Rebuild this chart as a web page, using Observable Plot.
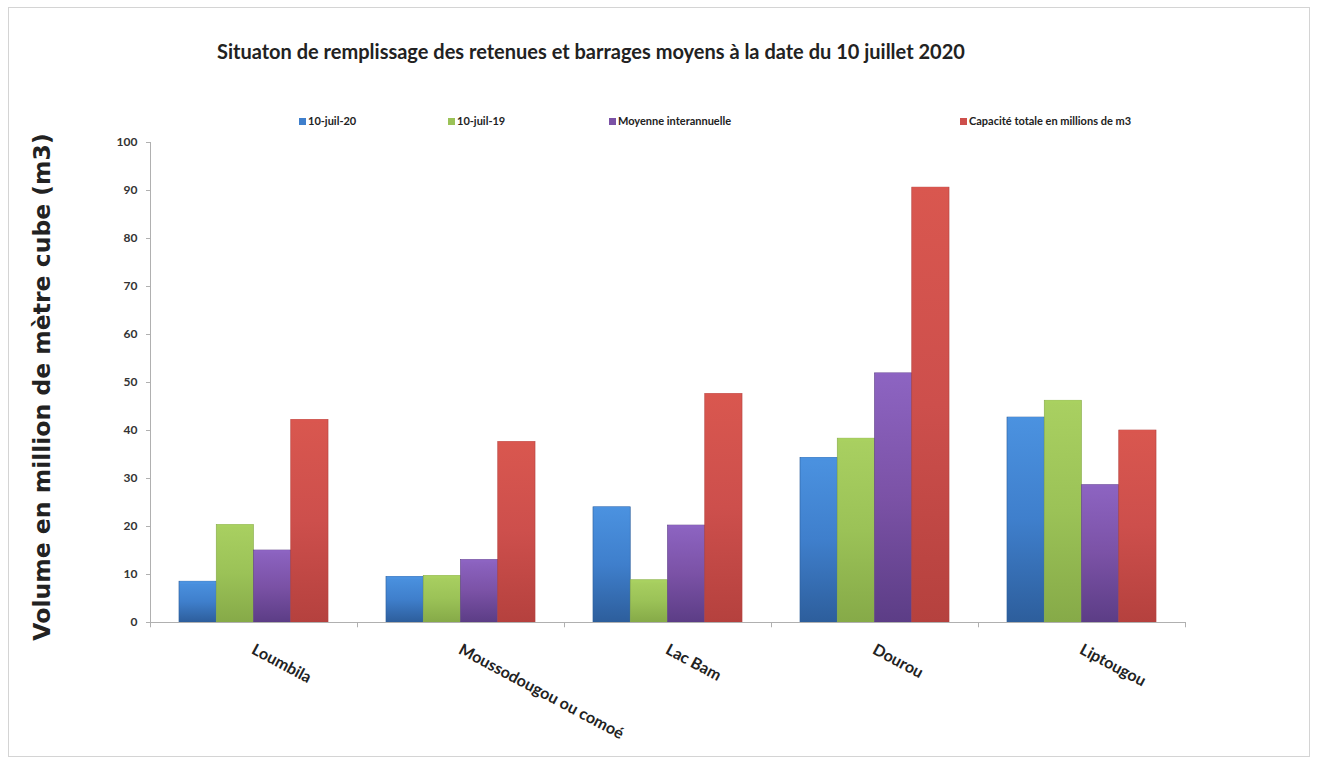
<!DOCTYPE html>
<html><head><meta charset="utf-8">
<script src="https://cdn.jsdelivr.net/npm/d3@7"></script>
<script src="https://cdn.jsdelivr.net/npm/@observablehq/plot@0.6"></script>
<style>
body{margin:0;background:#fff;font-family:Lato,"Open Sans",sans-serif;}
#wrap{position:relative;width:1318px;height:761px;overflow:hidden;}
#frame{position:absolute;left:8px;top:7px;width:1300px;height:748px;border:1px solid #d4d4d4;}
#title{position:absolute;left:217px;top:39px;font-size:20px;font-weight:700;color:#222;white-space:nowrap;}
#ytitle{position:absolute;left:42px;top:387px;transform:translate(-50%,-50%) rotate(-90deg);font-family:"DejaVu Sans";font-size:23.5px;font-weight:700;color:#222;white-space:nowrap;}
.leg{position:absolute;top:114px;font-size:11px;font-weight:700;color:#222;white-space:nowrap;}
.leg i{display:inline-block;width:7px;height:7px;margin-right:2px;vertical-align:0px;}
#chart{position:absolute;left:0;top:0;}
</style></head>
<body><div id="wrap"><div id="frame"></div><div id="chart"></div>
<div id="title">Situaton de remplissage des retenues et barrages moyens à la date du 10 juillet 2020</div>
<div id="ytitle">Volume en million de mètre cube (m3)</div>
<div id="legend"></div>
</div>
<script>
const categories = ["Loumbila","Moussodougou ou comoé","Lac Bam","Dourou","Liptougou"];
const seriesNames = ["10-juil-20","10-juil-19","Moyenne interannuelle","Capacité totale en millions de m3"];
const juil20 = [8.5, 9.5, 24.0, 34.3, 42.7];
const juil19 = [20.3, 9.7, 8.8, 38.3, 46.2];
const moyenne = [15.0, 13.0, 20.2, 51.9, 28.6];
const capacite = [42.2, 37.6, 47.6, 90.6, 40.0];
const yTicks = [0,10,20,30,40,50,60,70,80,90,100];
const colors = ["#3f7fcc","#9bc257","#7b52a6","#cd4f4c"];
const gradTop = ["#4b92e0","#a9d061","#8d64c2","#d9574f"];
const gradBot = ["#2d5e9c","#86aa48","#5c3d86","#b5413e"];

const seriesVals = [juil20, juil19, moyenne, capacite];
const rows = [];
categories.forEach((c, ci) => seriesVals.forEach((vals, si) => rows.push({category: c, ci, si, series: seriesNames[si], value: vals[ci]})));

const outer = 0.14, bw = (1 - 2*outer) / 4;

const plot = Plot.plot({
  width: 1318, height: 761,
  marginLeft: 150, marginRight: 133, marginTop: 142, marginBottom: 139,
  style: {fontFamily: "Lato, sans-serif", overflow: "visible"},
  x: {type: "linear", domain: [0, categories.length], axis: null},
  y: {type: "linear", domain: [0, 100], axis: null},
  color: {domain: seriesNames, range: seriesNames.map((_, i) => `url(#g${i})`)},
  marks: [
    Plot.rectY(rows, {x1: d => d.ci + outer + d.si*bw, x2: d => d.ci + outer + (d.si+1)*bw, y1: 0, y2: "value", fill: "series", stroke: d => gradBot[d.si], strokeWidth: 0.6}),
    Plot.rectY(rows, {x1: d => d.ci + outer + d.si*bw, x2: d => d.ci + outer + (d.si+1)*bw, y1: d => d.value - 0.6, y2: "value", fill: d => gradTop[d.si], fillOpacity: 0.9, insetLeft: 1, insetRight: 1}),
    Plot.ruleY([0], {stroke: "#b0b0b0", strokeWidth: 1}),
    Plot.ruleX([0], {y1: 0, y2: 100, stroke: "#b0b0b0", strokeWidth: 1}),
    Plot.ruleX(d3.range(categories.length + 1), {x: d => d, y1: 0, y2: -1.1, stroke: "#b0b0b0"}),
    Plot.axisY({ticks: yTicks, tickSize: 4, tickPadding: 9, stroke: "#b0b0b0", fontSize: 12, fontWeight: 700, fill: "#333", label: null}),
    Plot.text(categories, {x: (d, i) => i + 0.5, y: 0, text: d => d, rotate: 28, textAnchor: "start", dx: -1, dy: 26, fontSize: 16, fontWeight: 700, fill: "#222"})
  ]
});
// gradient defs
const ns = "http://www.w3.org/2000/svg";
const defs = document.createElementNS(ns, "defs");
colors.forEach((c, i) => {
  const g = document.createElementNS(ns, "linearGradient");
  g.setAttribute("id", `g${i}`); g.setAttribute("x1", "0"); g.setAttribute("y1", "0"); g.setAttribute("x2", "0"); g.setAttribute("y2", "1");
  [[0, gradTop[i]], [0.5, c], [1, gradBot[i]]].forEach(([o, col]) => {
    const s = document.createElementNS(ns, "stop"); s.setAttribute("offset", o); s.setAttribute("stop-color", col); g.appendChild(s);
  });
  defs.appendChild(g);
});
plot.insertBefore(defs, plot.firstChild);
document.getElementById("chart").appendChild(plot);

// legend
const legX = [299, 448, 609, 960];
const leg = document.getElementById("legend");
seriesNames.forEach((s, i) => {
  const d = document.createElement("div"); d.className = "leg"; d.style.left = legX[i] + "px";
  d.innerHTML = `<i style="background:${colors[i]}"></i>`; d.appendChild(document.createTextNode(s));
  leg.appendChild(d);
});
</script></body></html>
